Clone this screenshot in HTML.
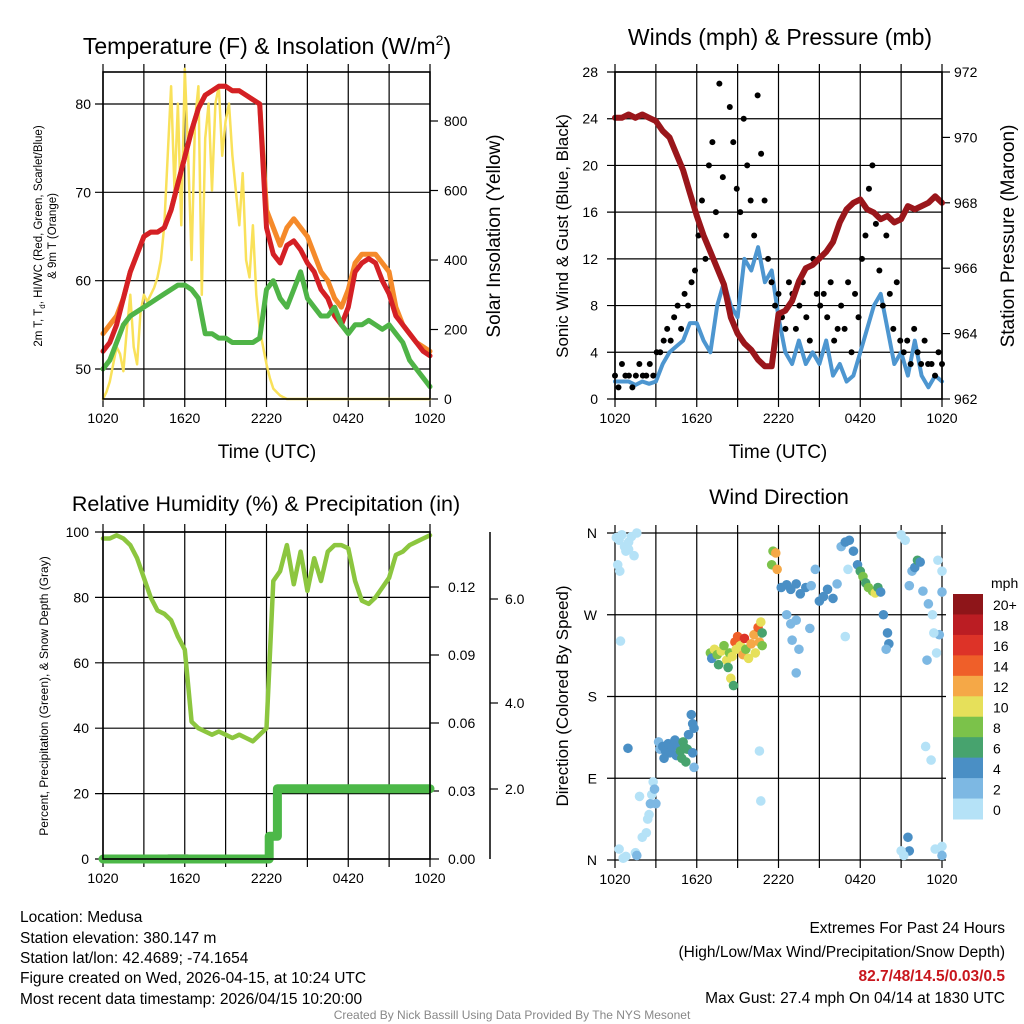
<!DOCTYPE html>
<html><head><meta charset="utf-8">
<style>
html,body{margin:0;padding:0;background:#fff;}
svg{display:block;font-family:"Liberation Sans",Arial,sans-serif;}
</style></head>
<body>
<svg id="chart" width="1024" height="1024" viewBox="0 0 1024 1024" xmlns="http://www.w3.org/2000/svg">
<g id="p1"></g>
<g id="p2"></g>
<g id="p3"></g>
<g id="p4"></g>
<g id="footer" font-size="15.5" fill="#000">
<text x="20" y="922">Location: Medusa</text>
<text x="20" y="943">Station elevation: 380.147 m</text>
<text x="20" y="963">Station lat/lon: 42.4689; -74.1654</text>
<text x="20" y="983">Figure created on Wed, 2026-04-15, at 10:24 UTC</text>
<text x="20" y="1004">Most recent data timestamp: 2026/04/15 10:20:00</text>
<text x="1005" y="933" text-anchor="end">Extremes For Past 24 Hours</text>
<text x="1005" y="957" text-anchor="end">(High/Low/Max Wind/Precipitation/Snow Depth)</text>
<text x="1005" y="981" text-anchor="end" fill="#c8161d" font-weight="bold">82.7/48/14.5/0.03/0.5</text>
<text x="1005" y="1003" text-anchor="end">Max Gust: 27.4 mph On 04/14 at 1830 UTC</text>
<text x="512" y="1019" text-anchor="middle" font-size="12" fill="#888">Created By Nick Bassill Using Data Provided By The NYS Mesonet</text>
</g>
</svg>
<script>
// ---------- DATA ----------
const timeTicks = ["1020","1620","2220","0420","1020"];
const tempT = [52,53,55,58,61,63,65,65.5,65.5,66,68,71,74,77,79.5,81,81.5,82,82,81.5,81.5,81,80.5,80,66,63,62,64,64.5,63.5,62,61,59,58,56,55,57,61,62,62.5,62,60,58.5,56,55,54,53,52,51.5];
const temp9m = [54,55,56,58,61,63,65,65.5,65.5,66,68,71,74,77,79.5,81,81.5,82,82,81.5,81.5,81,80.5,80,68,66,64,66,67,66,65,63,61,60,58,57,59,62,63,63,63,62,61,57,55,54,53,52.5,52];
const dewT = [50,51,53,55,56,56.5,57,57.5,58,58.5,59,59.5,59.5,59,58,54,54,53.5,53.5,53,53,53,53,53.5,59,60,58,57,59,61,58,57,56,56,57,55,54,55,55,55.5,55,54.5,55,54,53,51,50,49,48];
const solar = [0,20,50,100,150,130,80,200,300,150,100,250,300,280,300,320,350,400,500,700,900,600,850,500,950,700,400,800,900,300,750,850,600,850,900,700,800,850,700,600,500,650,400,350,500,300,200,150,100,60,30,20,10,5,0,0,0,0,0,0,0,0,0,0,0,0,0,0,0,0,0,0,0,0,0,0,0,0,0,0,0,0,0,0,0,0,0,0,0,0,0,0,0,0,0,0,0];
const tempTicks = [50,60,70,80];
const solarTicks = [0,200,400,600,800];

const windSpd = [1.5,1.5,1.5,1.2,1.5,1.3,1.5,3,4,4.5,5,6.5,6.5,5,4,8,10,8,7,12,11,13,10,11,7,4,3,5,3,4,3,5,2,3,1.5,2,4,6,8,9,6,3,4,2,5,2,1,2,1.5];
const gusts = [2,1,3,2,2,1,2,3,2,2,3,2,4,4,5,6,5,7,8,6,9,8,10,11,14,17,12,20,22,16,27,19,14,25,22,18,16,24,20,17,14,26,21,17,12,10,8,9,7,6,10,9,6,8,10,7,5,12,9,8,9,7,10,5,6,8,6,10,4,9,7,12,14,18,20,15,11,8,14,9,6,10,5,4,5,3,6,4,3,5,3,3,2,4,3];
const pressure = [970.6,970.6,970.7,970.6,970.7,970.6,970.5,970.2,970,969.5,969,968.3,967.6,967,966.5,966,965.5,964.5,964,963.7,963.5,963.2,963,963,964.6,964.7,965,965.6,966,966.1,966.3,966.5,966.8,967.4,967.8,968,968.1,967.8,967.7,967.5,967.6,967.4,967.5,967.9,967.8,967.9,968,968.2,968];
const windTicks = [0,4,8,12,16,20,24,28];
const presTicks = [962,964,966,968,970,972];

const rh = [98,98,99,98,96,92,86,80,76,75,73,68,64,42,40,39,38,39,38,37,38,37,36,38,40,85,88,96,84,94,82,92,85,94,96,96,95,85,79,78,80,83,86,93,94,96,97,98,99];
const precipTime = [0,12.2,12.2,12.8,12.8,24];
const precipVal = [0,0,0.01,0.01,0.031,0.031];
const snowTime = [4.8,6.2];
const snowVal = [0.05,0.05];
const rhTicks = [0,20,40,60,80,100];
const precipTicks = ["0.00","0.03","0.06","0.09","0.12"];
const snowTicks = ["2.0","4.0","6.0"];

const dirT = [0.1,0.3,0.5,0.7,0.8,1.0,1.2,1.4,1.6,0.2,0.35,1.0,0.3,0.6,0.8,1.5,1.6,2.0,2.3,2.4,2.5,2.6,2.7,2.8,2.9,3.0,1.8,0.95,0.4,
 3.2,3.3,3.5,3.7,3.9,4.0,4.2,4.4,4.5,4.6,4.8,5.0,5.1,5.3,4.9,5.2,3.6,5.4,5.6,5.7,5.8,5.7,5.8,
 7.0,7.1,7.3,7.5,7.6,7.8,8.0,8.2,8.4,8.6,8.8,9.0,8.9,9.2,9.4,9.5,9.6,9.8,10.0,10.2,10.3,10.5,10.7,10.6,10.8,8.3,10.8,8.5,8.7,
 11.5,11.6,11.8,11.9,12.2,12.6,12.9,13.3,13.6,14.0,14.4,14.7,15.0,15.3,15.6,16.0,16.3,12.6,13.3,12.9,13.0,13.5,13.3,14.3,16.9,
 16.6,16.9,17.2,17.5,17.8,18.0,18.2,18.4,18.6,18.9,19.1,19.3,19.5,19.7,20.0,20.1,19.9,17.1,
 21.0,21.3,21.8,22.0,22.2,22.4,21.6,22.6,23.0,23.3,23.8,23.4,24.0,24.0,23.7,22.9,23.6,21.5,21.6,21.0,21.2,23.5,24.0,24.0,10.6,10.7,22.8,23.2];
const dirD = [355,352,358,345,340,350,356,335,360,325,318,342,12,2,4,8,5,25,30,45,50,62,72,86,78,62,70,123,241,
 130,122,125,120,128,118,124,132,115,126,120,130,124,122,112,108,112,138,160,150,145,118,102,
 228,222,232,226,215,230,236,220,228,224,240,246,232,236,226,244,232,222,238,248,228,256,262,240,236,212,250,200,192,
 325,340,338,320,300,303,298,304,293,300,302,320,285,290,298,288,304,270,264,260,242,232,206,255,246,
 345,350,352,340,325,318,312,305,300,296,294,300,295,270,250,238,232,320,
 358,352,318,322,330,328,302,296,282,270,248,250,295,318,330,220,228,25,10,10,5,12,15,5,120,65,125,110];
const dirS = [1,0,0,1,0,0,1,0,0,0,0,1,0,1,0,1,2,0,1,0,1,2,0,1,2,2,0,4,0,
 3,2,4,4,4,4,4,4,4,5,6,6,6,6,6,6,4,4,4,4,4,4,3,
 8,4,10,8,6,10,8,10,8,10,14,14,10,10,12,16,8,10,12,12,10,14,10,12,8,6,6,10,6,
 8,8,12,12,4,4,4,4,4,4,3,3,4,4,4,4,3,3,3,2,3,3,3,2,0,
 2,4,4,4,4,6,8,6,8,8,10,6,4,4,4,4,3,0,
 1,1,2,4,6,4,2,3,2,1,2,1,3,1,1,3,1,4,4,1,1,1,1,2,0,0,1,0];
const speedBins = ["20+","18","16","14","12","10","8","6","4","2","0"];
const binColors = ["#8e1519","#bb1d23","#dd3328","#ef5f29","#f5a847","#e6e05a","#7bc24a","#47a36e","#4a8fc5","#7db8e3","#b5e2f7"];
const dirTicks = ["N","W","S","E","N"];

// ---------- HELPERS ----------
const NS = "http://www.w3.org/2000/svg";
function mk(parent, tag, attrs, txt){
  const e = document.createElementNS(NS, tag);
  for (const k in attrs) e.setAttribute(k, attrs[k]);
  if (txt !== undefined) e.textContent = txt;
  parent.appendChild(e);
  return e;
}
function lin(d0,d1,r0,r1){ return v => r0 + (v-d0)*(r1-r0)/(d1-d0); }

function frame(g, L, R, T, B, xs, nameBase){
  for (let h=0; h<=24; h+=3){
    const x = xs(h);
    const gl = mk(g,'line',{x1:x,x2:x,y1:T-8,y2:B+8,stroke:'#000','stroke-width':1.2});
    
    
  }
  timeTicks.forEach((lab,i)=>{
    const t = mk(g,'text',{x:xs(i*6),y:B+24,'font-size':14,'text-anchor':'middle'},lab);
    
    
  });
}
function box(g,L,R,T,B,name){
  const r = mk(g,'rect',{x:L,y:T,width:R-L,height:B-T,fill:'none',stroke:'#000','stroke-width':1.6});
  
  
}
function pathFrom(xsArr, ysArr){
  let d='';
  for (let i=0;i<xsArr.length;i++) d += (i?'L':'M') + xsArr[i].toFixed(1)+','+ysArr[i].toFixed(1);
  return d;
}
function series(g, arr, tStep, xs, ys, color, w, name){
  const X = arr.map((v,i)=>xs(i*tStep)), Y = arr.map(v=>ys(v));
  const p = mk(g,'path',{d:pathFrom(X,Y),fill:'none',stroke:color,'stroke-width':w,'stroke-linejoin':'round','stroke-linecap':'round'});
  
  
  return p;
}

// ---------- PANEL 1 ----------
(function(){
  const g = document.getElementById('p1');
  const L=103,R=430,T=72,B=399;
  const xs = lin(0,24,L,R);
  const yT = lin(50,80,369,104);
  const yS = lin(0,800,399,121);
  const title = mk(g,'text',{x:267,y:54,'font-size':23,'text-anchor':'middle'});
  
  
  title.innerHTML = 'Temperature (F) &amp; Insolation (W/m<tspan dy="-9" font-size="14">2</tspan><tspan dy="9">)</tspan>';
  frame(g,L,R,T,B,xs,'temp');
  tempTicks.forEach(v=>{
    const y=yT(v);
    const l=mk(g,'line',{x1:L-8,x2:R,y1:y,y2:y,stroke:'#000','stroke-width':1.2});
    
    
    const t=mk(g,'text',{x:L-12,y:y+5,'font-size':14,'text-anchor':'end'},v);
    
    
  });
  solarTicks.forEach(v=>{
    const y=yS(v);
    const l=mk(g,'line',{x1:R,x2:R+8,y1:y,y2:y,stroke:'#000','stroke-width':1.2});
    
    
    const t=mk(g,'text',{x:R+14,y:y+5,'font-size':14},v);
    
    
  });
  series(g,solar,0.25,xs,yS,'#f9e15a',2.5,'solar-line');
  series(g,temp9m,0.5,xs,yT,'#f58a2a',5,'temp-9m-line');
  series(g,tempT,0.5,xs,yT,'#d42025',5,'temp-2m-line');
  series(g,dewT,0.5,xs,yT,'#4fb447',5,'dewpoint-line');
  box(g,L,R,T,B,'temp-plot-frame');
  const xl=mk(g,'text',{x:267,y:458,'font-size':19,'text-anchor':'middle'},'Time (UTC)');
   
  const yl=mk(g,'text',{transform:'translate(42,236) rotate(-90)','font-size':11.5,'text-anchor':'middle'});
   
  yl.innerHTML='<tspan x="0" dy="0">2m T, T<tspan font-size="8" dy="3">d</tspan><tspan dy="-3">, HI/WC (Red, Green, Scarlet/Blue)</tspan></tspan><tspan x="0" dy="14">&amp; 9m T (Orange)</tspan>';
  const yr=mk(g,'text',{transform:'translate(500,236) rotate(-90)','font-size':19,'text-anchor':'middle'},'Solar Insolation (Yellow)');
   
})();

// ---------- PANEL 2 ----------
(function(){
  const g = document.getElementById('p2');
  const L=615,R=942,T=72,B=399;
  const xs = lin(0,24,L,R);
  const yW = lin(0,28,B,T);
  const yP = lin(962,972,B,T);
  const title=mk(g,'text',{x:780,y:45,'font-size':23,'text-anchor':'middle'},'Winds (mph) & Pressure (mb)');
   
  frame(g,L,R,T,B,xs,'winds');
  windTicks.forEach(v=>{
    const y=yW(v);
    const l=mk(g,'line',{x1:L-8,x2:R,y1:y,y2:y,stroke:'#000','stroke-width':1.2});
     
    const t=mk(g,'text',{x:L-17,y:y+5,'font-size':14,'text-anchor':'end'},v);
     
  });
  presTicks.forEach(v=>{
    const y=yP(v);
    const l=mk(g,'line',{x1:R,x2:R+8,y1:y,y2:y,stroke:'#000','stroke-width':1.2});
     
    const t=mk(g,'text',{x:R+12,y:y+5,'font-size':14},v);
     
  });
  series(g,windSpd,0.5,xs,yW,'#4d96d0',4,'sonic-wind-line');
  const step = 24/(gusts.length-1);
  gusts.forEach((v,i)=>{
    const c=mk(g,'circle',{cx:xs(i*step),cy:yW(v),r:3,fill:'#000'});
     
  });
  series(g,pressure,0.5,xs,yP,'#9a161b',6,'pressure-line');
  box(g,L,R,T,B,'winds-plot-frame');
  const xl=mk(g,'text',{x:778,y:458,'font-size':19,'text-anchor':'middle'},'Time (UTC)');
   
  const yl=mk(g,'text',{transform:'translate(568,236) rotate(-90)','font-size':17,'text-anchor':'middle'},'Sonic Wind & Gust (Blue, Black)');
   
  const yr=mk(g,'text',{transform:'translate(1014,236) rotate(-90)','font-size':19,'text-anchor':'middle'},'Station Pressure (Maroon)');
   
})();

// ---------- PANEL 3 ----------
(function(){
  const g = document.getElementById('p3');
  const L=103,R=430,T=532,B=859;
  const xs = lin(0,24,L,R);
  const yR = lin(0,100,B,T);
  const yPr = lin(0,0.03,859,791);
  const snowY = {"2.0":789,"4.0":703,"6.0":599};
  const title=mk(g,'text',{x:266,y:511,'font-size':21.5,'text-anchor':'middle'},'Relative Humidity (%) & Precipitation (in)');
   
  frame(g,L,R,T,B,xs,'rh');
  rhTicks.forEach(v=>{
    const y=yR(v);
    const l=mk(g,'line',{x1:L-8,x2:R,y1:y,y2:y,stroke:'#000','stroke-width':1.2});
     
    const t=mk(g,'text',{x:L-14,y:y+5,'font-size':14,'text-anchor':'end'},v);
     
  });
  precipTicks.forEach(v=>{
    const y=yPr(parseFloat(v));
    const l=mk(g,'line',{x1:R,x2:R+9,y1:y,y2:y,stroke:'#000','stroke-width':1.2});
     
    const t=mk(g,'text',{x:R+18,y:y+5,'font-size':14},v);
     
  });
  const sa=mk(g,'line',{x1:490,x2:490,y1:532,y2:859,stroke:'#000','stroke-width':1.5});
   
  snowTicks.forEach(v=>{
    const y=snowY[v];
    const l=mk(g,'line',{x1:490,x2:498,y1:y,y2:y,stroke:'#000','stroke-width':1.2});
     
    const t=mk(g,'text',{x:505,y:y+5,'font-size':14},v);
     
  });
  series(g,rh,0.5,xs,yR,'#8cc63f',4.5,'rh-line');
  const sp=mk(g,'path',{d:pathFrom(snowTime.map(xs),snowVal.map(v=>yR(v))),fill:'none',stroke:'#aaa','stroke-width':9,'stroke-linecap':'round'});
   
  const pp=mk(g,'path',{d:pathFrom(precipTime.map(xs),precipVal.map(yPr)),fill:'none',stroke:'#4cb848','stroke-width':9,'stroke-linecap':'round','stroke-linejoin':'round'});
   
  box(g,L,R,T,B,'rh-plot-frame');
  const yl=mk(g,'text',{transform:'translate(48,696) rotate(-90)','font-size':12,'text-anchor':'middle'},'Percent, Precipitation (Green), & Snow Depth (Gray)');
   
})();

// ---------- PANEL 4 ----------
(function(){
  const g = document.getElementById('p4');
  const L=615,R=942,T=533,B=860;
  const xs = lin(0,24,L,R);
  const yD = lin(0,360,B,T);
  const title=mk(g,'text',{x:779,y:504,'font-size':21.5,'text-anchor':'middle'},'Wind Direction');
   
  frame(g,L,R,T,B,xs,'dir');
  dirTicks.forEach((lab,i)=>{
    const y=yD(360-i*90);
    const l=mk(g,'line',{x1:L-8,x2:R+4,y1:y,y2:y,stroke:'#000','stroke-width':1.2});
     
    const t=mk(g,'text',{x:L-18,y:y+5,'font-size':14,'text-anchor':'end'},lab);
     
  });
  function colorFor(s){
    let idx = 10 - Math.min(10, Math.floor(s/2));
    return binColors[idx];
  }
  dirT.forEach((t,i)=>{
    const c=mk(g,'circle',{cx:xs(t),cy:yD(dirD[i]),r:4.8,fill:colorFor(dirS[i])});
     
  });
  const yl=mk(g,'text',{transform:'translate(568,696) rotate(-90)','font-size':17,'text-anchor':'middle'},'Direction (Colored By Speed)');
   
  const cb = mk(g,'g',{});
   
  const mph=mk(cb,'text',{x:991,y:588,'font-size':14},'mph');
   
  const top=594, h=(819-594)/speedBins.length;
  speedBins.forEach((lab,i)=>{
    const r=mk(cb,'rect',{x:953,y:top+i*h,width:30,height:h+0.5,fill:binColors[i]});
     
    const t=mk(cb,'text',{x:993,y:top+i*h+h/2+6,'font-size':14},lab);
     
  });
})();
</script>
</body></html>
